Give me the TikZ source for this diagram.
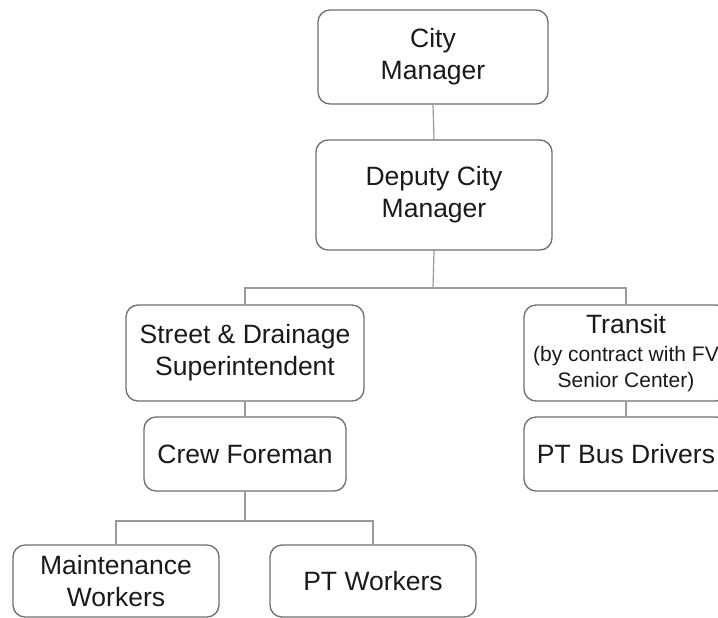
\documentclass[tikz,border=0pt]{standalone}
\usepackage{fontspec}
\setmainfont{Liberation Sans}
\definecolor{boxgray}{HTML}{6E6E6E}
\definecolor{linegray}{HTML}{9A9A9A}
\definecolor{textgray}{HTML}{1A1A1A}
\begin{document}
\begin{tikzpicture}[x=1pt,y=-1pt,
  box/.style={draw=boxgray, line width=1.3pt, rounded corners=12pt, align=center,
    text=textgray, font=\fontsize{26.5}{32}\selectfont, inner sep=0pt},
  link/.style={draw=linegray, line width=1.2pt}]
\useasboundingbox (0,0) rectangle (718,618);
\clip (0,0) rectangle (718,618);

% management
\node[box, minimum width=230pt, minimum height=94pt] (cm) at (433,57) {City\\Manager};
\node[box, minimum width=236pt, minimum height=110pt] (dcm) at (434,195) {Deputy City\\Manager};

% divisions
\node[box, minimum width=238pt, minimum height=96pt] (sds) at (245,353) {Street \& Drainage\\Superintendent};
\node[box, minimum width=204pt, minimum height=96pt] (tr) at (626,353)
  {Transit\\[-4pt]{\fontsize{21}{28}\selectfont (by contract with FV}\\[-6pt]{\fontsize{21}{28}\selectfont Senior Center)}};

\node[box, minimum width=202pt, minimum height=74pt] (cf) at (245,454) {Crew Foreman};
\node[box, minimum width=204pt, minimum height=74pt] (bus) at (626,454) {PT Bus Drivers};

% crews
\node[box, minimum width=206pt, minimum height=72pt] (mw) at (116,581) {Maintenance\\Workers};
\node[box, minimum width=206pt, minimum height=72pt] (ptw) at (373,581) {PT Workers};

% connectors
\coordinate (bus1) at (433,288);
\coordinate (bus2) at (245,521);
\draw[link] (cm.south) -- (dcm.north);
\draw[link] (dcm.south) -- (bus1);
\draw[link] (sds.north) |- (bus1) -| (tr.north);
\draw[link] (sds.south) -- (cf.north);
\draw[link] (tr.south) -- (bus.north);
\draw[link] (cf.south) -- (bus2);
\draw[link] (mw.north) |- (bus2) -| (ptw.north);
\end{tikzpicture}
\end{document}
